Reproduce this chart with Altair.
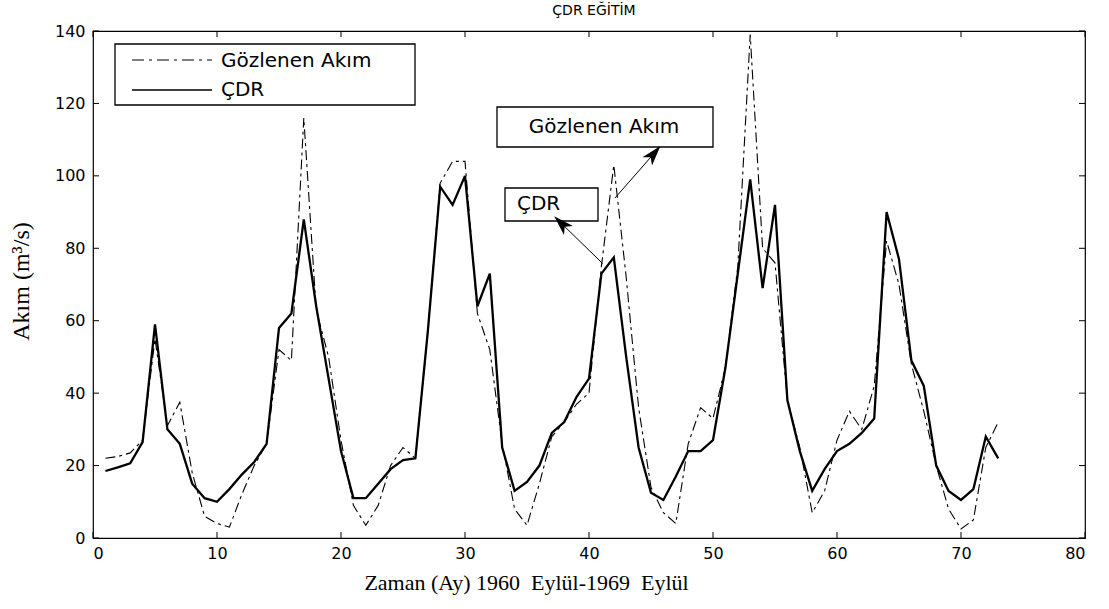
import altair as alt
import pandas as pd

# ---- data ----
months = list(range(1, 74))
cdr = [18.5, 19.5, 20.6, 26.5, 59, 30, 26, 15, 11, 10,
       13.5, 17.5, 21, 26, 58, 62, 88, 64, 44, 24,
       11, 11, 15, 19, 21.5, 22, 57, 97, 92, 100,
       64, 73, 25, 13, 15.5, 20, 29, 32, 39, 44,
       73, 77.5, 50, 25, 12.5, 10.5, 17, 24, 24, 27,
       47, 73, 99, 69, 92, 38, 24, 13, 19, 24,
       26, 29, 33, 90, 77, 49, 42, 20, 13, 10.5,
       13.5, 28, 22]
observed = [22, 22.5, 23.5, 27, 55, 31, 37.5, 18, 6, 4,
            3, 12, 20, 26, 52, 49, 116, 63, 50, 27,
            9, 3.5, 9, 20, 25, 22, 57, 98, 104, 104,
            62, 52, 26, 8, 3.5, 15, 28, 32, 37, 40,
            75, 103, 72, 36, 14, 7, 4, 26, 36, 33,
            47, 75, 139, 80, 76, 38, 25, 7, 13, 27,
            35, 30, 42, 82, 70, 48, 35, 20, 8, 2.5,
            5, 25, 32]
x_ticks = [0, 10, 20, 30, 40, 50, 60, 70, 80]
y_ticks = [0, 20, 40, 60, 80, 100, 120, 140]

title_text = "ÇDR EĞİTİM"
x_title = "Zaman (Ay) 1960\u00a0 Eylül-1969\u00a0 Eylül"
y_title = "Akım (m³/s)"
lbl_obs = "Gözlenen Akım"
lbl_cdr = "ÇDR"

# annotation arrows (data units): start -> end
arrow_t = [41.1, 42.1]
arrow_v = [75.8, 93.9]
arrow_t2 = [37.8, 45.2]
arrow_v2 = [86.8, 106.0]
arrow_angle = [315, 41]

W, H = 992, 507
SANS = "DejaVu Sans"
SERIF = "Liberation Serif"

df_cdr = pd.DataFrame({"t": months, "v": cdr})
df_obs = pd.DataFrame({"t": months, "v": observed})
one = pd.DataFrame({"a": [0]})

xs = alt.Scale(domain=[0, 80], nice=False, zero=False)
ys = alt.Scale(domain=[0, 140], nice=False)

obs_line = alt.Chart(df_obs).mark_line(
    color="black", strokeWidth=1.1, strokeDash=[10, 4, 3, 4]
).encode(
    x=alt.X("t:Q", scale=xs, axis=alt.Axis(
        values=x_ticks, ticks=False, domain=False, grid=False,
        labelFont=SANS, labelFontSize=16, labelColor="black", labelPadding=7,
        title=x_title, titleFont=SERIF, titleFontSize=22, titleFontWeight="normal",
        titleColor="black", titleX=433, titleY=44, titleAlign="center",
        titleBaseline="middle")),
    y=alt.Y("v:Q", scale=ys, axis=alt.Axis(
        values=y_ticks, ticks=False, domain=False, grid=False,
        labelFont=SANS, labelFontSize=16, labelColor="black", labelPadding=8,
        title=y_title, titleFont=SERIF, titleFontSize=24, titleFontWeight="normal",
        titleColor="black", titleX=-72, titleY=250, titleAngle=270,
        titleAlign="center", titleBaseline="middle")),
)

cdr_line = alt.Chart(df_cdr).mark_line(color="black", strokeWidth=2.3).encode(
    x=alt.X("t:Q", scale=xs), y=alt.Y("v:Q", scale=ys)
)

# inward tick marks on all four sides
xt_df = pd.DataFrame({"t": x_ticks})
yt_df = pd.DataFrame({"v": y_ticks})
tick_b = alt.Chart(xt_df).mark_rule(color="black", strokeWidth=1).encode(
    x=alt.X("t:Q", scale=xs), y=alt.value(H), y2=alt.value(H - 6))
tick_t = alt.Chart(xt_df).mark_rule(color="black", strokeWidth=1).encode(
    x=alt.X("t:Q", scale=xs), y=alt.value(0), y2=alt.value(6))
tick_l = alt.Chart(yt_df).mark_rule(color="black", strokeWidth=1).encode(
    y=alt.Y("v:Q", scale=ys), x=alt.value(0), x2=alt.value(6))
tick_r = alt.Chart(yt_df).mark_rule(color="black", strokeWidth=1).encode(
    y=alt.Y("v:Q", scale=ys), x=alt.value(W - 6), x2=alt.value(W))

# title (drawn as text above the plot)
title_mark = alt.Chart(one).mark_text(align="center", baseline="middle", font=SANS, fontSize=14,
                                      color="black").encode(
    x=alt.value(W / 2 + 5), y=alt.value(-20), text=alt.value(title_text))

# legend (drawn)
leg_box = alt.Chart(one).mark_rect(fill="white", stroke="black", strokeWidth=1.3).encode(
    x=alt.value(22), x2=alt.value(322), y=alt.value(13), y2=alt.value(74))
leg_obs = alt.Chart(one).mark_rule(color="black", strokeWidth=1.1, strokeDash=[12, 5, 3, 5]).encode(
    x=alt.value(39), x2=alt.value(119), y=alt.value(29))
leg_cdr = alt.Chart(one).mark_rule(color="black", strokeWidth=1.5).encode(
    x=alt.value(39), x2=alt.value(119), y=alt.value(59))
leg_t1 = alt.Chart(one).mark_text(align="left", baseline="middle", font=SANS, fontSize=20, color="black").encode(
    x=alt.value(128), y=alt.value(30), text=alt.value(lbl_obs))
leg_t2 = alt.Chart(one).mark_text(align="left", baseline="middle", font=SANS, fontSize=20, color="black").encode(
    x=alt.value(128), y=alt.value(59), text=alt.value(lbl_cdr))

# annotation boxes
ann_box1 = alt.Chart(one).mark_rect(fill="white", stroke="black", strokeWidth=1.3).encode(
    x=alt.value(404), x2=alt.value(620), y=alt.value(76), y2=alt.value(116))
ann_txt1 = alt.Chart(one).mark_text(align="center", baseline="middle", font=SANS, fontSize=20, color="black").encode(
    x=alt.value(511), y=alt.value(96), text=alt.value(lbl_obs))
ann_box2 = alt.Chart(one).mark_rect(fill="white", stroke="black", strokeWidth=1.3).encode(
    x=alt.value(412), x2=alt.value(505), y=alt.value(157), y2=alt.value(190))
ann_txt2 = alt.Chart(one).mark_text(align="left", baseline="middle", font=SANS, fontSize=20, color="black").encode(
    x=alt.value(424), y=alt.value(173), text=alt.value(lbl_cdr))

arr_df = pd.DataFrame({"t": arrow_t, "v": arrow_v, "t2": arrow_t2, "v2": arrow_v2, "ang": arrow_angle})
arr_line = alt.Chart(arr_df).mark_rule(color="black", strokeWidth=1).encode(
    x=alt.X("t:Q", scale=xs), y=alt.Y("v:Q", scale=ys), x2="t2:Q", y2="v2:Q")
arr_head = alt.Chart(arr_df).mark_point(
    shape="M0,-1L0.6,0.9L0,0.4L-0.6,0.9Z", filled=True, color="black", opacity=1, size=450
).encode(x=alt.X("t2:Q", scale=xs), y=alt.Y("v2:Q", scale=ys), angle=alt.Angle("ang:Q", scale=None))

chart = alt.layer(
    obs_line, cdr_line, tick_b, tick_t, tick_l, tick_r, title_mark,
    leg_box, leg_obs, leg_cdr, leg_t1, leg_t2,
    ann_box1, ann_txt1, ann_box2, ann_txt2, arr_line, arr_head,
).properties(
    width=W, height=H,
    autosize=alt.AutoSizeParams(type="none"),
    padding={"left": 93, "top": 31, "right": 24, "bottom": 71},
    background="white",
).configure_view(stroke="black", strokeWidth=1.2)

chart.save("out.html", embed_options={"renderer": "svg", "actions": False})
